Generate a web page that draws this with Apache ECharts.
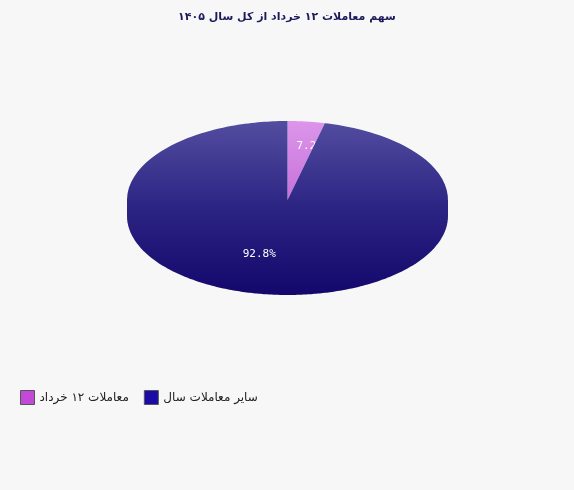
<!DOCTYPE html>
<html>
<head>
<meta charset="utf-8">
<script src="https://cdn.jsdelivr.net/npm/echarts@6/dist/echarts.min.js"></script>
<style>
html,body{margin:0;padding:0;background:#f7f7f7;}
#c{width:574px;height:490px;}
</style>
</head>
<body>
<div id="c"></div>
<script>
const titleText = 'سهم معاملات ۱۲ خرداد از کل سال ۱۴۰۵';
const categories = ['معاملات ۱۲ خرداد', 'سایر معاملات سال'];
const values = [7.2, 92.8];
const legendColors = ['#c24ad6', '#1a0aa6'];
const topColors = [
  ['#dc95ea', '#c46ed8', '#b85acf'],
  ['#534da0', '#2c2483', '#13076b']
];

const chart = echarts.init(document.getElementById('c'), null, {renderer: 'canvas'});
const total = values.reduce((a, b) => a + b, 0);
const THICK = 16;

function renderSlice(params, api) {
  const start = api.value(0), val = api.value(1), tot = api.value(2), idx = api.value(3);
  const a0 = start / tot * Math.PI * 2;
  const a1 = (start + val) / tot * Math.PI * 2;
  const c = api.coord([0, 0]);
  const sz = api.size([1, 1]);
  const rx = sz[0], ry = sz[1];
  function edge(a) {
    let dx = Math.sin(a) / rx, dy = Math.cos(a) / ry;
    const n = Math.hypot(dx, dy);
    return api.coord([dx / n, dy / n]);
  }
  const N = 160;
  const cols = topColors[idx];
  const mkGrad = () => new echarts.graphic.LinearGradient(0, c[1] - ry, 0, c[1] + ry + THICK, [
    {offset: 0, color: cols[0]}, {offset: 0.5, color: cols[1]}, {offset: 1, color: cols[2]}
  ], true);
  const pts = [c];
  for (let i = 0; i <= N; i++) pts.push(edge(a0 + (a1 - a0) * i / N));
  const children = [];
  const s0 = Math.max(a0, Math.PI / 2), s1 = Math.min(a1, Math.PI * 1.5);
  if (s1 > s0) {
    const side = [c, edge(s0)];
    for (let i = 0; i <= N; i++) {
      const p = edge(s0 + (s1 - s0) * i / N);
      side.push([p[0], p[1] + THICK]);
    }
    side.push(edge(s1));
    children.push({type: 'polygon', shape: {points: side},
      style: {fill: mkGrad(), stroke: null, lineWidth: 0}});
  }
  children.push({type: 'polygon', shape: {points: pts},
    style: {fill: mkGrad(), stroke: null, lineWidth: 0}});
  const mid = (a0 + a1) / 2;
  const lp = api.coord([0.7 * Math.sin(mid), 0.7 * Math.cos(mid)]);
  children.push({type: 'text', x: lp[0] - 3, y: lp[1],
    style: {text: (val / tot * 100).toFixed(1) + '%', fill: '#ffffff',
      font: '11px "DejaVu Sans Mono"', align: 'center', verticalAlign: 'middle'}});
  return {type: 'group', children: children};
}

let acc = 0;
const series = categories.map((name, i) => {
  const item = [acc, values[i], total, i];
  acc += values[i];
  return {
    name: name,
    type: 'custom',
    coordinateSystem: 'cartesian2d',
    z: 2 + i,
    itemStyle: {color: legendColors[i]},
    renderItem: renderSlice,
    data: [item],
    silent: true,
    animation: false
  };
});

chart.setOption({
  backgroundColor: '#f7f7f7',
  animation: false,
  title: {
    text: titleText,
    left: 'center',
    top: 7,
    textStyle: {fontFamily: 'DejaVu Sans', fontSize: 11, fontWeight: 'bold', color: '#1b1b5c'}
  },
  legend: {
    data: categories,
    left: 15,
    top: 385,
    icon: 'rect',
    itemWidth: 14,
    itemHeight: 14,
    itemGap: 15,
    itemStyle: {borderColor: '#555', borderWidth: 1},
    textStyle: {fontFamily: 'DejaVu Sans', fontSize: 12, color: '#222'}
  },
  grid: {left: 127, top: 121, width: 321, height: 158},
  xAxis: {type: 'value', min: -1, max: 1, show: false},
  yAxis: {type: 'value', min: -1, max: 1, show: false},
  series: series
});
</script>
</body>
</html>
